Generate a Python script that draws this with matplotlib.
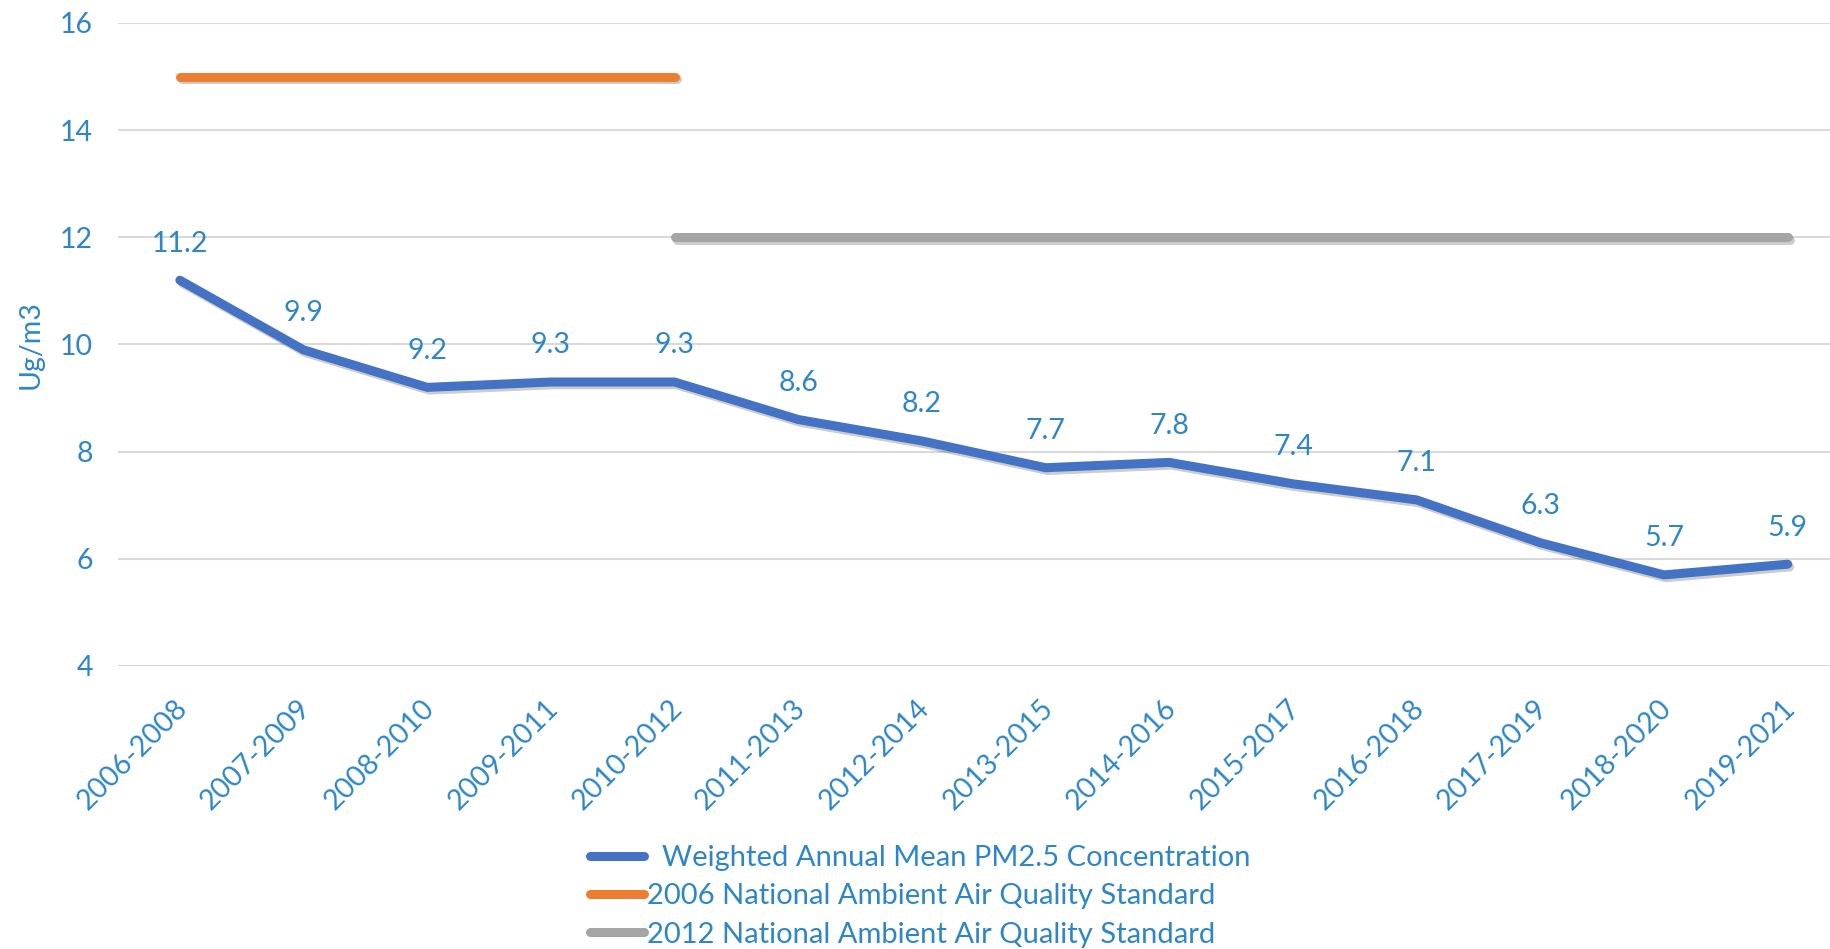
import matplotlib
matplotlib.use("Agg")
import matplotlib.pyplot as plt
import matplotlib.patheffects as pe
import matplotlib.transforms as mtransforms

periods = ["2006-2008", "2007-2009", "2008-2010", "2009-2011", "2010-2012", "2011-2013",
           "2012-2014", "2013-2015", "2014-2016", "2015-2017", "2016-2018", "2017-2019",
           "2018-2020", "2019-2021"]
pm25 = [11.2, 9.9, 9.2, 9.3, 9.3, 8.6, 8.2, 7.7, 7.8, 7.4, 7.1, 6.3, 5.7, 5.9]
std2006_periods = periods[0:5]
std2006 = [15] * len(std2006_periods)
std2012_periods = periods[4:]
std2012 = [12] * len(std2012_periods)
yticks = [4, 6, 8, 10, 12, 14, 16]

labels = ["  Weighted Annual Mean PM2.5 Concentration",
          "2006 National Ambient Air Quality Standard",
          "2012 National Ambient Air Quality Standard"]

TXT = "#2E86C9"
FS = 20.5
plt.rcParams['font.family'] = ['Lato', 'DejaVu Sans']

fig = plt.figure(figsize=(18.31, 9.49), dpi=100)
ax = fig.add_axes([118/1831, 1-666/949, 1-118/1831, (666-23)/949])

idx = {p: i for i, p in enumerate(periods)}
shadow = [pe.SimpleLineShadow(offset=(1.5, -2), alpha=0.2, shadow_color='black'), pe.Normal()]

l1, = ax.plot(range(len(periods)), pm25, color="#4472C4", lw=6.5, solid_capstyle='round',
              solid_joinstyle='round', path_effects=shadow, zorder=4)
l2, = ax.plot([idx[p] for p in std2006_periods], std2006, color="#ED7D31", lw=6.5,
              solid_capstyle='round', path_effects=shadow, zorder=3)
l3, = ax.plot([idx[p] for p in std2012_periods], std2012, color="#A5A5A5", lw=6.5,
              solid_capstyle='round', path_effects=shadow, zorder=3)

for i, v in enumerate(pm25):
    ax.annotate(f"{v:.1f}", (i, v), xytext=(0, 17), textcoords='offset points',
                ha='center', va='bottom', fontsize=FS, color=TXT)

ax.set_ylim(4, 16)
ax.set_yticks(yticks)
ax.set_xlim(-0.5, 13.35)
ax.set_xticks(range(len(periods)))
ax.set_xticklabels(periods, rotation=45, ha='right', rotation_mode='anchor')
ax.tick_params(axis='both', length=0, labelsize=FS, labelcolor=TXT)
ax.tick_params(axis='x', pad=21)
ax.tick_params(axis='y', pad=18)
off = mtransforms.ScaledTranslation(-6/100, 0, fig.dpi_scale_trans)
for lbl in ax.get_xticklabels():
    lbl.set_transform(lbl.get_transform() + off)
ax.grid(axis='y', color='#D9D9D9', lw=1.5)
ax.set_axisbelow(True)
for s in ax.spines.values():
    s.set_visible(False)
ax.set_ylabel("Ug/m3", fontsize=FS, color=TXT, labelpad=12)

leg = fig.legend([l1, l2, l3], labels, loc='upper left', bbox_to_anchor=(590/1831, 1-845/949),
                 frameon=False, fontsize=21, handlelength=1.85, handletextpad=0.1,
                 labelspacing=0.42, borderpad=0, borderaxespad=0)
for t in leg.get_texts():
    t.set_color(TXT)
for h in leg.get_lines():
    h.set_path_effects([])

fig.savefig("out.png", dpi=100)
